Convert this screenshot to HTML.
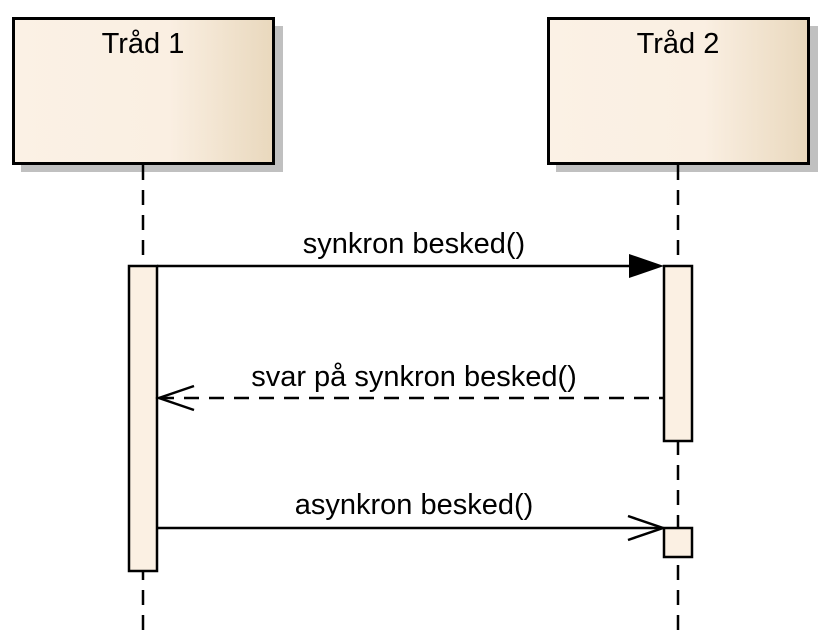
<!DOCTYPE html>
<html><head><meta charset="utf-8"><style>
html,body{margin:0;padding:0;background:#fff;width:826px;height:632px;overflow:hidden}
text{font-family:"Liberation Sans",Arial,sans-serif;font-size:29px;fill:#000}
</style></head><body>
<svg width="826" height="632" viewBox="0 0 826 632" xmlns="http://www.w3.org/2000/svg">
<defs>
<linearGradient id="g" x1="0" x2="1" y1="0" y2="0">
<stop offset="0" stop-color="#fbf1e5"/><stop offset="0.6" stop-color="#faefe2"/><stop offset="1" stop-color="#e9d8bd"/>
</linearGradient>
</defs>
<rect x="21" y="26" width="262" height="146" fill="#c0c0c0"/>
<rect x="556" y="26" width="262" height="146" fill="#c0c0c0"/>
<rect x="13.5" y="18.5" width="260" height="145" fill="url(#g)" stroke="#000" stroke-width="3"/>
<rect x="548.5" y="18.5" width="260" height="145" fill="url(#g)" stroke="#000" stroke-width="3"/>
<text x="143" y="53" text-anchor="middle">Tråd 1</text>
<text x="678" y="53" text-anchor="middle">Tråd 2</text>
<line x1="143" y1="165" x2="143" y2="632" stroke="#000" stroke-width="2.5" stroke-dasharray="15,10"/>
<line x1="678" y1="165" x2="678" y2="632" stroke="#000" stroke-width="2.5" stroke-dasharray="15,10"/>
<rect x="129" y="266" width="28" height="305" fill="#fbf0e3" stroke="#000" stroke-width="2.5"/>
<rect x="664" y="266" width="28" height="175" fill="#fbf0e3" stroke="#000" stroke-width="2.5"/>
<rect x="664" y="528" width="28" height="29" fill="#fbf0e3" stroke="#000" stroke-width="2.5"/>
<line x1="157" y1="266" x2="635" y2="266" stroke="#000" stroke-width="2.5"/>
<polygon points="629,254 664,266 629,278" fill="#000"/>
<text x="414" y="253" text-anchor="middle">synkron besked()</text>
<line x1="159" y1="398" x2="664" y2="398" stroke="#000" stroke-width="2.5" stroke-dasharray="15,10"/>
<polyline points="194,386 159,398 194,410" fill="none" stroke="#000" stroke-width="2.5"/>
<text x="414" y="386" text-anchor="middle">svar på synkron besked()</text>
<line x1="157" y1="528" x2="663" y2="528" stroke="#000" stroke-width="2.5"/>
<polyline points="628,516 663,528 628,540" fill="none" stroke="#000" stroke-width="2.5"/>
<text x="414" y="514" text-anchor="middle">asynkron besked()</text>
</svg>
</body></html>
